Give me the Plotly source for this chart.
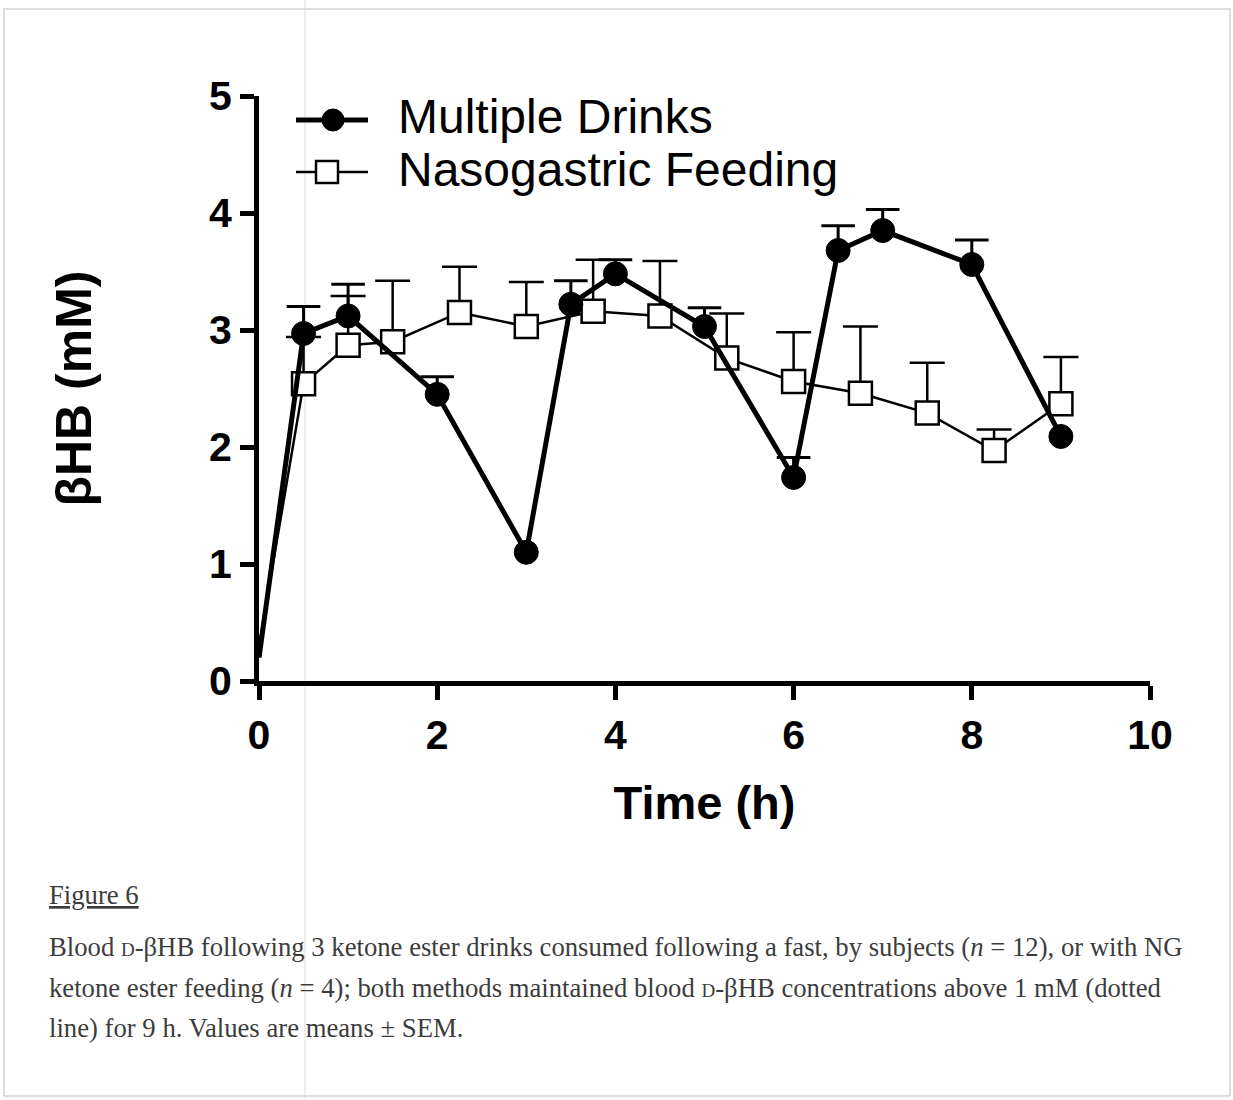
import plotly.graph_objects as go

# ---- data ----
md_time = [0, 0.5, 1, 2, 3, 3.5, 4, 5, 6, 6.5, 7, 8, 9]
md_mean = [0.2, 2.97, 3.12, 2.45, 1.10, 3.22, 3.48, 3.03, 1.74, 3.68, 3.85, 3.56, 2.09]
md_sem = [0, 0.23, 0.27, 0.15, 0, 0.2, 0.12, 0.16, 0.17, 0.21, 0.18, 0.21, 0]

ng_time = [0, 0.5, 1, 1.5, 2.25, 3, 3.75, 4.5, 5.25, 6, 6.75, 7.5, 8.25, 9]
ng_mean = [0.3, 2.54, 2.87, 2.90, 3.15, 3.03, 3.16, 3.12, 2.76, 2.56, 2.46, 2.29, 1.97, 2.37]
ng_sem = [0, 0.4, 0.42, 0.52, 0.39, 0.38, 0.44, 0.47, 0.38, 0.42, 0.57, 0.43, 0.18, 0.4]

x_ticks = [0, 2, 4, 6, 8, 10]
y_ticks = [0, 1, 2, 3, 4, 5]

series_names = ["Multiple Drinks", "Nasogastric Feeding"]

FONT = "Liberation Sans, Arial, sans-serif"
SERIF = "Liberation Serif, Times New Roman, serif"

fig = go.Figure()


def add_upper_errorbars(t, m, s, thick, capw):
    """Upward-only SEM bars (GraphPad style): stem from mean to mean+SEM plus a top cap.
    Bars hidden inside the symbol (SEM ~ 0) are not drawn."""
    sx, sy, cx, cy = [], [], [], []
    for ti, mi, si in zip(t, m, s):
        if si <= 0:
            continue
        sx += [ti, ti, None]
        sy += [mi, mi + si, None]
        cx.append(ti)
        cy.append(mi + si)
    fig.add_trace(go.Scatter(x=sx, y=sy, mode="lines", showlegend=False, hoverinfo="skip",
                             line=dict(color="black", width=thick), cliponaxis=False))
    fig.add_trace(go.Scatter(x=cx, y=cy, mode="markers", showlegend=False, hoverinfo="skip",
                             marker=dict(symbol="line-ew", size=capw,
                                         line=dict(color="black", width=thick)),
                             cliponaxis=False))


# error bars first, so the markers sit on top of them
add_upper_errorbars(ng_time, ng_mean, ng_sem, 2.5, 25)
add_upper_errorbars(md_time, md_mean, md_sem, 3, 24)

fig.add_trace(go.Scatter(
    x=ng_time, y=ng_mean, name=series_names[1], mode="lines+markers", showlegend=False,
    line=dict(color="black", width=2.5),
    marker=dict(symbol="square", size=[0] + [23] * (len(ng_time) - 1), color="white",
                opacity=1, line=dict(color="black", width=2.5)),
    cliponaxis=False,
))
fig.add_trace(go.Scatter(
    x=md_time, y=md_mean, name=series_names[0], mode="lines+markers", showlegend=False,
    line=dict(color="black", width=5),
    marker=dict(symbol="circle", size=[0] + [24] * (len(md_time) - 1), color="black",
                opacity=1, line=dict(color="black", width=1)),
    cliponaxis=False,
))

L, R, T, B = 259, 83, 96, 419
W, H = 1233, 1100
pw, ph = W - L - R, H - T - B


def px(xp):
    return (xp - L) / pw


def py(yp):
    return (H - B - yp) / ph


fig.update_layout(
    width=W, height=H,
    margin=dict(l=L, r=R, t=T, b=B),
    paper_bgcolor="white", plot_bgcolor="white",
    font=dict(family=FONT, color="black"),
    showlegend=False,
    xaxis=dict(
        range=[0, 10], tickvals=x_ticks, ticktext=[str(v) for v in x_ticks],
        showgrid=False, zeroline=False, showline=True, linecolor="black", linewidth=5,
        ticks="outside", ticklen=14, tickwidth=5, tickcolor="black",
        tickfont=dict(family=FONT, size=41, color="black", weight="bold"),
        title=dict(text="Time (h)", font=dict(family=FONT, size=47, color="black", weight="bold"),
                   standoff=30),
    ),
    yaxis=dict(
        range=[0, 5], tickvals=y_ticks, ticktext=[str(v) for v in y_ticks],
        showgrid=False, zeroline=False, showline=True, linecolor="black", linewidth=5,
        ticks="outside", ticklen=14, tickwidth=5, tickcolor="black",
        tickfont=dict(family=FONT, size=41, color="black", weight="bold"),
        title=dict(text="βHB (mM)", font=dict(family=FONT, size=50, color="black", weight="bold"),
                   standoff=103),
    ),
)

# manual legend (glyphs + labels)
leg_rows = [(120, 5, "circle"), (172, 2.5, "square")]
for (ycen, lw, sym), name in zip(leg_rows, series_names):
    fig.add_shape(type="line", xref="paper", yref="paper",
                  x0=px(296), x1=px(368), y0=py(ycen), y1=py(ycen),
                  line=dict(color="black", width=lw))
    if sym == "circle":
        fig.add_shape(type="circle", xref="paper", yref="paper",
                      x0=px(333 - 11), x1=px(333 + 11), y0=py(ycen + 11), y1=py(ycen - 11),
                      fillcolor="black", line=dict(color="black", width=1))
    else:
        fig.add_shape(type="rect", xref="paper", yref="paper",
                      x0=px(327 - 11), x1=px(327 + 11), y0=py(ycen + 11), y1=py(ycen - 11),
                      fillcolor="white", line=dict(color="black", width=2.5))
    fig.add_annotation(xref="paper", yref="paper", x=px(396), y=py(ycen - 3),
                       xanchor="left", yanchor="middle", text=name, showarrow=False,
                       font=dict(family=FONT, size=48, color="black"))

# page frame / scan artifacts
fig.add_shape(type="rect", xref="paper", yref="paper",
              x0=px(4), x1=px(1230), y0=py(1096), y1=py(9),
              line=dict(color="rgba(200,200,200,0.8)", width=1.5), layer="below")
fig.add_shape(type="line", xref="paper", yref="paper",
              x0=px(305), x1=px(305), y0=py(1100), y1=py(0),
              line=dict(color="rgba(215,215,215,0.8)", width=1), layer="below")

cap_color = "#3c3c3c"
small_d = "<span style='font-size:19px'>D</span>"
captions = [
    (895, "Figure 6"),
    (947, f"Blood {small_d}-βHB following 3 ketone ester drinks consumed following a fast, by subjects (<i>n</i> = 12), or with NG"),
    (988, f"ketone ester feeding (<i>n</i> = 4); both methods maintained blood {small_d}-βHB concentrations above 1 mM (dotted"),
    (1028, "line) for 9 h. Values are means ± SEM."),
]
for i, (ypix, txt) in enumerate(captions):
    fig.add_annotation(
        xref="paper", yref="paper", x=px(47), y=py(ypix), xanchor="left", yanchor="middle",
        text=txt, showarrow=False,
        font=dict(family=SERIF, size=26.7, color=cap_color,
                  lineposition="under" if i == 0 else "none"),
    )

fig.write_html("out.html")
